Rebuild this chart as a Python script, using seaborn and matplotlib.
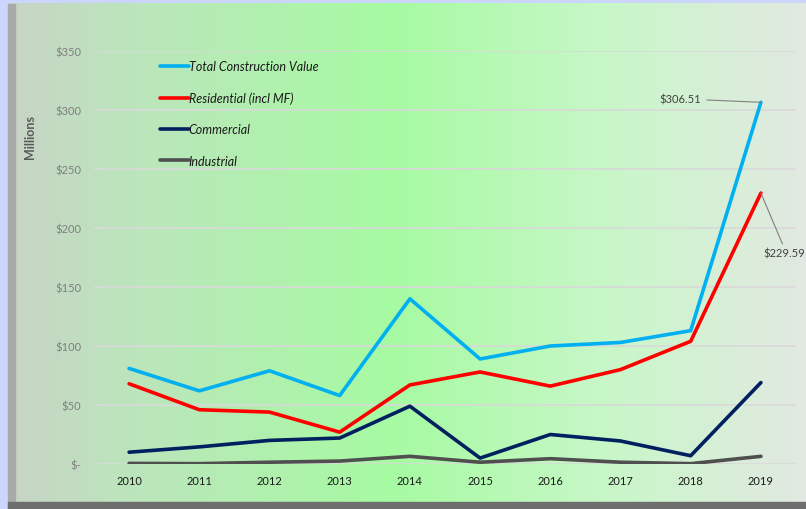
import numpy as np
import pandas as pd
import matplotlib.pyplot as plt
from matplotlib.colors import LinearSegmentedColormap
from matplotlib.patches import Rectangle
import seaborn as sns

years = [2010, 2011, 2012, 2013, 2014, 2015, 2016, 2017, 2018, 2019]
total = [81, 62, 79, 58, 140, 89, 100, 103, 113, 306.51]
residential = [68, 46, 44, 27, 67, 78, 66, 80, 104, 229.59]
commercial = [10, 14.5, 20, 22, 49, 5, 25, 19.5, 7, 69]
industrial = [0.5, 0.3, 1.5, 2.5, 6.5, 1.5, 4.5, 1.5, 0.3, 6.5]

series_names = ["Total Construction Value", "Residential (incl MF)", "Commercial", "Industrial"]
colors = {"Total Construction Value": "#00b0f0", "Residential (incl MF)": "#ff0000",
          "Commercial": "#002060", "Industrial": "#4f4f4f"}
y_ticks = [0, 50, 100, 150, 200, 250, 300, 350]
y_labels = ["$-", "$50", "$100", "$150", "$200", "$250", "$300", "$350"]

df = pd.DataFrame({"Year": years * 4,
                   "Value": total + residential + commercial + industrial,
                   "Series": sum([[s] * len(years) for s in series_names], [])})

sns.set_style("white")
plt.rcParams['font.family'] = ['Lato', 'DejaVu Sans']

fig = plt.figure(figsize=(8.06, 5.10), dpi=100, facecolor="#ccd6fc")

# background panel with horizontal gradient
bg = fig.add_axes([10 / 806, 7 / 510, 796 / 806, 499 / 510])
cmap = LinearSegmentedColormap.from_list("bg", [(0, "#c8d4c6"), (0.14, "#bde4bd"), (0.48, "#a6fba2"),
                                                (0.75, "#c8f7c8"), (1, "#e2e9e2")])
bg.imshow(np.linspace(0, 1, 256)[None, :], aspect="auto", cmap=cmap, extent=[0, 1, 0, 1])
bg.set_axis_off()
fig.patches.append(Rectangle((8 / 806, 0), 7 / 806, 505 / 510, transform=fig.transFigure,
                             color="#a9a9a9", zorder=0.5))
fig.patches.append(Rectangle((8 / 806, 0), 798 / 806, 7 / 510, transform=fig.transFigure,
                             color="#6e6e6e", zorder=0.5))

ax = fig.add_axes([94 / 806, 45 / 510, 702 / 806, 413 / 510])
ax.patch.set_alpha(0)
sns.lineplot(data=df, x="Year", y="Value", hue="Series", hue_order=series_names,
             palette=colors, linewidth=2.6, ax=ax)

ax.set_xlim(2009.5, 2019.5)
ax.set_ylim(0, 350)
ax.set_xticks(years)
ax.set_xticklabels([str(y) for y in years], fontsize=8, color="#1a1a1a")
ax.set_yticks(y_ticks)
ax.set_yticklabels(y_labels, fontsize=8, color="#7f7f7f")
ax.grid(axis="y", color="#d9d9d9", linewidth=1.2)
ax.set_axisbelow(True)
for s in ax.spines.values():
    s.set_visible(False)
ax.tick_params(axis="y", length=0, pad=9)
ax.tick_params(axis="x", length=0, pad=8)
ax.set_xlabel("")
ax.set_ylabel("Millions", fontsize=9, color="#595959", fontweight="bold")
ax.yaxis.set_label_coords(-0.083, 0.795)

leg = ax.legend(loc="upper left", bbox_to_anchor=(0.078, 1.005), frameon=False,
                labelspacing=1.55, handlelength=2.3, handletextpad=0.0,
                prop={"style": "italic", "size": 9})
for t in leg.get_texts():
    t.set_color("#1a1a1a")

ax.annotate("$306.51", xy=(2019, 306.51), xytext=(2017.55, 309.5), fontsize=8, color="#404040",
            va="center", ha="left",
            arrowprops=dict(arrowstyle="-", color="#808080", lw=0.8, shrinkA=2, shrinkB=0))
ax.annotate("$229.59", xy=(2019, 229.59), xytext=(2019.03, 179), fontsize=8, color="#404040",
            va="center", ha="left",
            arrowprops=dict(arrowstyle="-", color="#808080", lw=0.8, shrinkA=0, shrinkB=0,
                            relpos=(0.5, 1.0)))

fig.savefig("out.png", dpi=100, facecolor=fig.get_facecolor())
